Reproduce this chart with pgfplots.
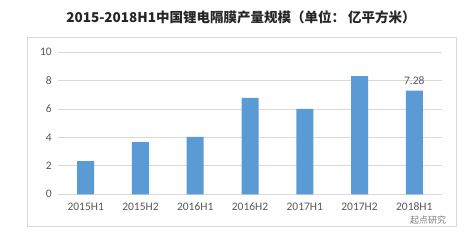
\documentclass[border=0pt]{standalone}
\usepackage{fontspec}
\setmainfont{Carlito}
\newfontfamily\cjk{Noto Sans CJK SC}
\usepackage{pgfplots}
\pgfplotsset{compat=1.18}
\definecolor{barblue}{HTML}{5B9BD5}
\definecolor{gridgray}{HTML}{D9D9D9}
\definecolor{txtgray}{HTML}{595959}
\definecolor{framegray}{HTML}{D9D9D9}
\begin{document}
\begin{tikzpicture}[x=1pt,y=1pt]
\path[use as bounding box,fill=white] (0,0) rectangle (469,241);
\draw[framegray,line width=0.8pt] (27.3,14.3) rectangle (456.7,203.7);
\node[font={\cjk\bfseries\fontsize{13.5}{16}\selectfont},text=black!85] at (241,223.5) {2015-2018H1中国锂电隔膜产量规模（单位： 亿平方米）};
\begin{axis}[
  at={(58.3pt,46.7pt)}, anchor=south west,
  scale only axis, width=383.4pt, height=142.3pt,
  xmin=-0.5, xmax=6.5, ymin=0, ymax=10,
  ytick={0,2,4,6,8,10},
  xtick={0,1,2,3,4,5,6},
  xticklabels={2015H1,2015H2,2016H1,2016H2,2017H1,2017H2,2018H1},
  axis line style={draw=none},
  tick style={draw=none},
  ymajorgrids, grid style={gridgray,line width=0.8pt},
  /pgf/number format/assume math mode=true,
  ticklabel style={font=\fontsize{11.5}{13}\selectfont,text=txtgray},
  yticklabel style={xshift=-3pt},
  xticklabel style={yshift=-5pt},
  clip=false,
]
\addplot[ybar, bar width=17pt, fill=barblue, draw=none] coordinates {
  (0,2.34) (1,3.67) (2,4.03) (3,6.77) (4,6.00) (5,8.31) (6,7.28)
};
\addplot[only marks, mark=none, nodes near coords={\pgfmathprintnumber[fixed,precision=2]{\pgfplotspointmeta}},
  nodes near coords style={font=\fontsize{11.5}{13}\selectfont,text=txtgray,anchor=south,yshift=3pt},
  point meta=explicit] coordinates {(6,7.28) [7.28]};
\end{axis}
\node[font={\cjk\fontsize{9}{11}\selectfont},text=black!50,inner sep=0.5pt] at (428,20.5) {起点研究};
\end{tikzpicture}
\end{document}
